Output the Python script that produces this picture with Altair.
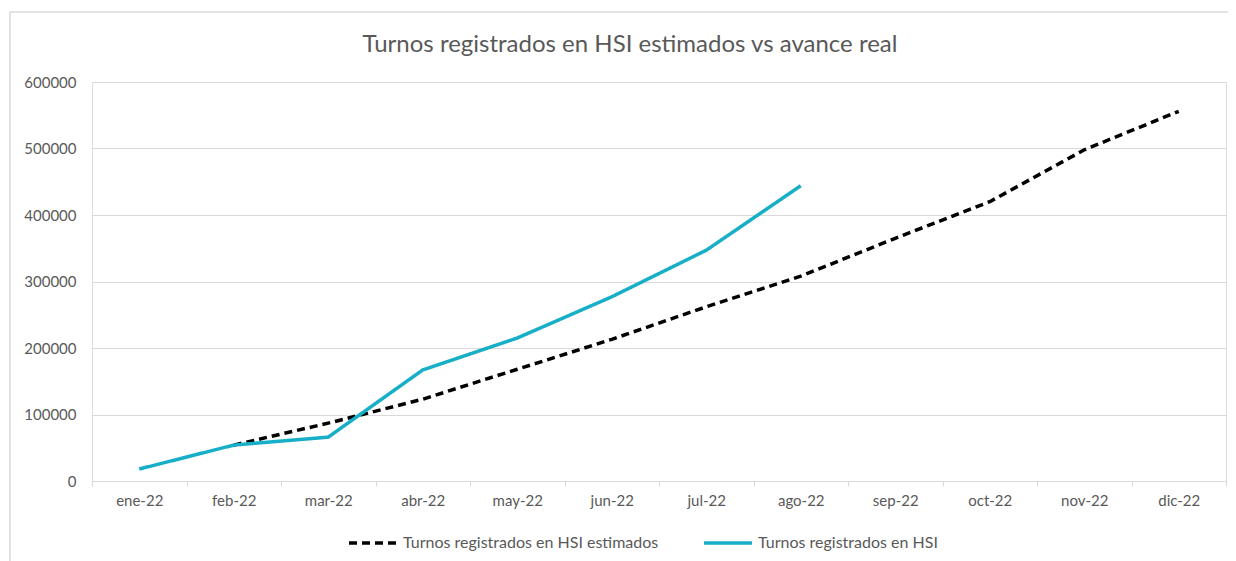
import altair as alt
import pandas as pd

months = ["ene-22", "feb-22", "mar-22", "abr-22", "may-22", "jun-22",
          "jul-22", "ago-22", "sep-22", "oct-22", "nov-22", "dic-22"]
est_months = months[1:]
estimado = [54000, 87000, 123000, 168000, 213000, 262000, 308000,
            365000, 420000, 498000, 556000]
real_months = months[:8]
real = [18000, 54000, 66000, 167000, 215000, 277000, 347000, 444000]

TITLE = "Turnos registrados en HSI estimados vs avance real"
S_EST = "Turnos registrados en HSI estimados"
S_REAL = "Turnos registrados en HSI"

df = pd.concat([
    pd.DataFrame({"mes": est_months, "valor": estimado, "serie": S_EST}),
    pd.DataFrame({"mes": real_months, "valor": real, "serie": S_REAL}),
])
df["orden"] = df["serie"].map({S_EST: 0, S_REAL: 1})

FONT = "Lato"
GRAY = "#595959"

leg = alt.Legend(title=None, orient="none", direction="horizontal",
                 legendX=255, legendY=435, symbolType="stroke",
                 symbolSize=2304, symbolStrokeWidth=3.5,
                 labelFont=FONT, labelFontSize=16, labelColor=GRAY,
                 labelLimit=400, labelOffset=4, columnPadding=38)

lines = alt.Chart(df).mark_line(strokeWidth=3.5, strokeCap="butt").encode(
    x=alt.X("mes:N", sort=months, bandPosition=0.5,
            scale=alt.Scale(type="band", domain=months, paddingInner=0, paddingOuter=0),
            axis=alt.Axis(title=None, grid=False, tickBand="extent", tickSize=5,
                          tickColor="#D9D9D9", domainColor="#D9D9D9", domainWidth=1,
                          labelPadding=7, labelAngle=0, labelFontSize=15,
                          labelColor=GRAY, labelFont=FONT)),
    y=alt.Y("valor:Q", scale=alt.Scale(domain=[0, 600000]),
            axis=alt.Axis(title=None, values=[0, 100000, 200000, 300000, 400000, 500000, 600000],
                          format="d", grid=True, gridColor="#D9D9D9", gridWidth=1,
                          domain=False, ticks=False, labelPadding=16,
                          labelFontSize=15, labelColor=GRAY, labelFont=FONT)),
    color=alt.Color("serie:N", sort=[S_EST, S_REAL],
                    scale=alt.Scale(domain=[S_EST, S_REAL], range=["#000000", "#17AFC7"]),
                    legend=leg),
    strokeDash=alt.StrokeDash("serie:N", sort=[S_EST, S_REAL],
                              scale=alt.Scale(domain=[S_EST, S_REAL], range=[[8, 5], [1, 0]]),
                              legend=leg),
    order=alt.Order("orden:Q"),
)

frame = alt.Chart(pd.DataFrame({"a": [0]})).mark_rect(
    fill=None, stroke="#D9D9D9", strokeWidth=1.5
).encode(x=alt.value(-82), x2=alt.value(1170), y=alt.value(-70), y2=alt.value(500))

title = alt.Chart(pd.DataFrame({"t": [TITLE]})).mark_text(
    font=FONT, fontSize=24, color=GRAY, align="center", baseline="middle"
).encode(text="t:N", x=alt.value(538), y=alt.value(-37))

chart = alt.layer(frame, title, lines).properties(
    width=1134, height=399,
    autosize=alt.AutoSizeParams(type="none"),
    padding={"left": 84, "top": 74, "right": 2, "bottom": 80},
).configure_view(stroke=None).configure(background="white")

chart.save("out.html", embed_options={"renderer": "svg", "actions": False})
